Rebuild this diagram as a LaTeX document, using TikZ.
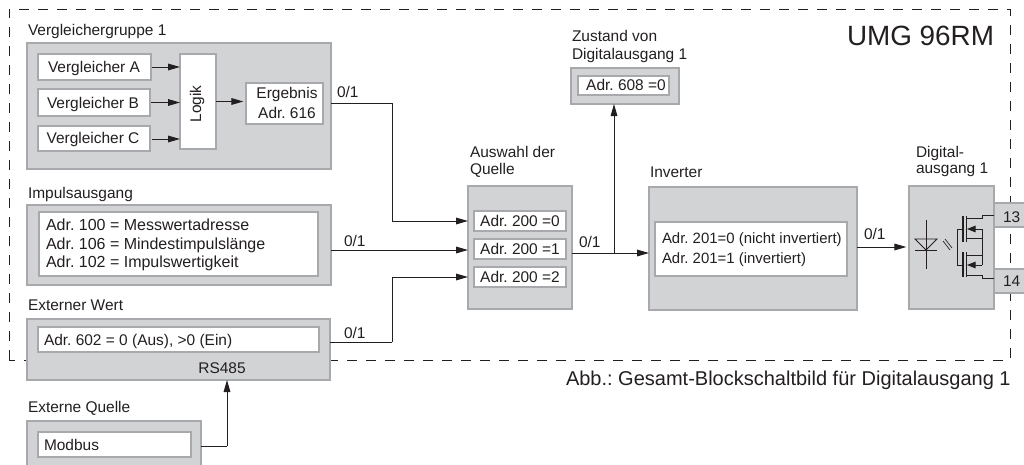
\documentclass[tikz,border=0pt]{standalone}
\usepackage{fontspec}
\setmainfont{Liberation Sans}
\frenchspacing
\usetikzlibrary{arrows.meta}
\definecolor{grayfill}{HTML}{D1D3D4}
\definecolor{grayline}{HTML}{A7A9AC}
\definecolor{ink}{HTML}{231F20}
\newcommand\bx[7][]{\node[#2,#1,minimum width={(#5-#3)*0.75pt},minimum height={(#6-#4)*0.75pt}] (#7) at ({(#3+#5)/2},{(#4+#6)/2}) {};}
\newcommand\fs{\fontsize{11.6}{14}\selectfont}
\tikzset{
  outerbox/.style={draw=grayline,fill=grayfill,line width=0.9pt,inner sep=0pt,outer sep=0pt},
  innerbox/.style={draw=grayline,fill=white,line width=0.9pt,inner sep=0pt,outer sep=0pt},
  lab/.style={anchor=base west,inner sep=0pt,outer sep=0pt,text=ink,font=\fs},
  ctr/.style={anchor=base,inner sep=0pt,outer sep=0pt,text=ink,font=\fs},
  imptext/.style={lab,font=\fontsize{12}{14}\selectfont},
  invtext/.style={lab,font=\fontsize{11.2}{14}\selectfont},
  conn/.style={draw=ink,line width=0.75pt},
  arr/.style={conn,-{Triangle[length=9pt,width=5pt]}},
  sym/.style={draw=ink,line width=0.7pt}
}
\begin{document}
\begin{tikzpicture}[x=0.75pt,y=-0.75pt]
\useasboundingbox (0,0) rectangle (1024,464);
\draw[draw=ink,line width=0.6pt,dash pattern=on 7.5pt off 6.75pt] (9,360) -- (9,9) -- (1010,9) -- (1010,360) -- cycle;
% Vergleichergruppe
\bx{outerbox}{27}{43}{331}{169}{grp}
\bx{innerbox}{38}{54}{151}{80}{va}
\bx{innerbox}{38}{89}{150}{116}{vb}
\bx{innerbox}{38}{126}{150}{151}{vc}
\bx{innerbox}{180}{54}{216}{149}{logik}
\bx{innerbox}{246}{83}{323}{124}{erg}
\node[lab] (tgrp) at (28,36) {Vergleichergruppe 1};
\node[ctr] (tva) at (94,72) {Vergleicher A};
\node[ctr] (tvb) at (93,108) {Vergleicher B};
\node[ctr] (tvc) at (93,143) {Vergleicher C};
\node[inner sep=0pt,text=ink,font=\fs,rotate=90] (tlogik) at (197,104) {Logik};
\node[ctr] (terg1) at (287,98) {Ergebnis};
\node[ctr] (terg2) at (287,118) {Adr. 616};
% Impuls
\bx{outerbox}{27}{205}{331}{285}{imp}
\bx{innerbox}{39}{212}{318}{276}{impi}
\node[lab] (timp) at (28,198) {Impulsausgang};
\node[imptext] (ti1) at (46,230) {Adr. 100 = Messwertadresse};
\node[imptext] (ti2) at (46,249) {Adr. 106 = Mindestimpulslänge};
\node[imptext] (ti3) at (46,267) {Adr. 102 = Impulswertigkeit};
% Externer Wert
\bx{outerbox}{27}{319}{330}{380}{ext}
\bx{innerbox}{38}{327}{319}{352}{exti}
\node[lab] (text) at (28,310) {Externer Wert};
\node[lab] (te1) at (44,345) {Adr. 602 = 0 (Aus), >0 (Ein)};
\node[ctr] (trs) at (222,373) {RS485};
% Externe Quelle
\bx{outerbox}{27}{421}{201}{468}{quelle}
\bx{innerbox}{38}{432}{191}{457}{quellei}
\node[lab] (tq) at (28,412) {Externe Quelle};
\node[lab] (tm) at (44,450) {Modbus};
% Auswahl
\bx{outerbox}{468}{186}{572}{309}{aus}
\bx{innerbox}{474}{211}{566}{231}{s0}
\bx{innerbox}{474}{239}{566}{259}{s1}
\bx{innerbox}{474}{267}{566}{287}{s2}
\node[lab] (ta1) at (470,157) {Auswahl der};
\node[lab] (ta2) at (470,174) {Quelle};
\node[ctr] (ts0) at (520,226) {Adr. 200 =0};
\node[ctr] (ts1) at (520,254) {Adr. 200 =1};
\node[ctr] (ts2) at (520,282) {Adr. 200 =2};
% Zustand
\bx{outerbox}{571}{68}{679}{104}{zus}
\bx{innerbox}{578}{76}{669}{95}{zusi}
\node[lab] (tz1) at (572,41) {Zustand von};
\node[lab] (tz2) at (572,59) {Digitalausgang 1};
\node[ctr] (tz3) at (626,90) {Adr. 608 =0};
% Inverter
\bx{outerbox}{649}{187}{857}{310}{inv}
\bx{innerbox}{655}{222}{847}{276}{invi}
\node[lab] (tinv) at (650,177) {Inverter};
\node[invtext] (tv1) at (662,243) {Adr. 201=0 (nicht invertiert)};
\node[invtext] (tv2) at (662,263) {Adr. 201=1 (invertiert)};
% Digital
\bx{outerbox}{994}{203}{1030}{227}{t13}
\bx{outerbox}{994}{269}{1030}{293}{t14}
\bx{outerbox}{909}{186}{994}{309}{dig}
\node[lab] (td1) at (916,157) {Digital-};
\node[lab] (td2) at (916,173) {ausgang 1};
\node[lab] (n13) at (1003,222) {13};
\node[lab] (n14) at (1003,286) {14};
% symbol
\draw[sym] (926,220) -- (926,269);
\draw[sym] (915,239) -- (937,239) -- (926,250) -- cycle;
\draw[sym] (915,250) -- (937,250);
\draw[sym,line width=0.5pt] (943,241) -- (950,250) (945,239) -- (952,248);
\draw[sym,line width=1pt] (963,216) -- (963,242) (963,252) -- (963,277);
\draw[sym,line width=1pt] (966.5,216) -- (966.5,242) (966.5,252) -- (966.5,277);
\draw[sym] (994,215) -- (982,215) -- (982,218) -- (966,218);
\draw[sym] (966,238) -- (982,238);
\draw[sym] (982,229) -- (982,265);
\draw[sym] (966,255) -- (982,255);
\draw[sym] (966,275) -- (982,275) -- (982,278) -- (994,278);
\draw[sym,-{Triangle[length=6.5pt,width=5pt]}] (982,229) -- (967,229);
\draw[sym,-{Triangle[length=6.5pt,width=5pt]}] (982,265) -- (967,265);
\draw[sym] (963,229) -- (957,229) -- (957,265) -- (963,265);
% labels 0/1
\node[lab] (l1) at (337,97) {0/1};
\node[lab] (l2) at (344,246) {0/1};
\node[lab] (l3) at (344,338) {0/1};
\node[lab] (l4) at (579,247) {0/1};
\node[lab] (l5) at (864,239) {0/1};
\node[lab,font=\fontsize{20.9}{24}\selectfont] (tumg) at (847,45) {UMG 96RM};
\node[lab,font=\fontsize{15}{18}\selectfont] (tcap) at (566,385) {Abb.: Gesamt-Blockschaltbild für Digitalausgang 1};
% connectors
\coordinate (y3) at (0,139);
\coordinate (y4) at (0,247);
\coordinate (ya) at (0,221);
\coordinate (yb) at (0,250);
\coordinate (yc) at (0,277);
\coordinate (j1) at (392,103);
\coordinate (j2) at (392,342);
\coordinate (j3) at (614,253);
\coordinate (j4) at (227,446);
\foreach \a in {va,vb}{\draw[arr] ([xshift=1pt]\a.east) -- (logik.west |- \a.east);}
\draw[arr] ([xshift=1.5pt]vc.east |- y3) -- (logik.west |- y3);
\draw[arr] (logik.east) -- ([xshift=-2pt]erg.west |- logik.east);
\draw[conn] (grp.east |- j1) -- (j1);
\draw[arr] (j1) |- (aus.west |- ya);
\draw[arr] (imp.east |- yb) -- (aus.west |- yb);
\draw[conn] (ext.east |- j2) -- (j2);
\draw[arr] (j2) |- (aus.west |- yc);
\draw[arr] (aus.east |- j3) -- (inv.west |- j3);
\draw[arr] (j3) -- (j3 |- zus.south);
\draw[arr] (inv.east |- y4) -- ([xshift=-2pt]dig.west |- y4);
\draw[conn] (quelle.east |- j4) -- (j4);
\draw[arr] (j4) -- (j4 |- ext.south);
\end{tikzpicture}
\end{document}
